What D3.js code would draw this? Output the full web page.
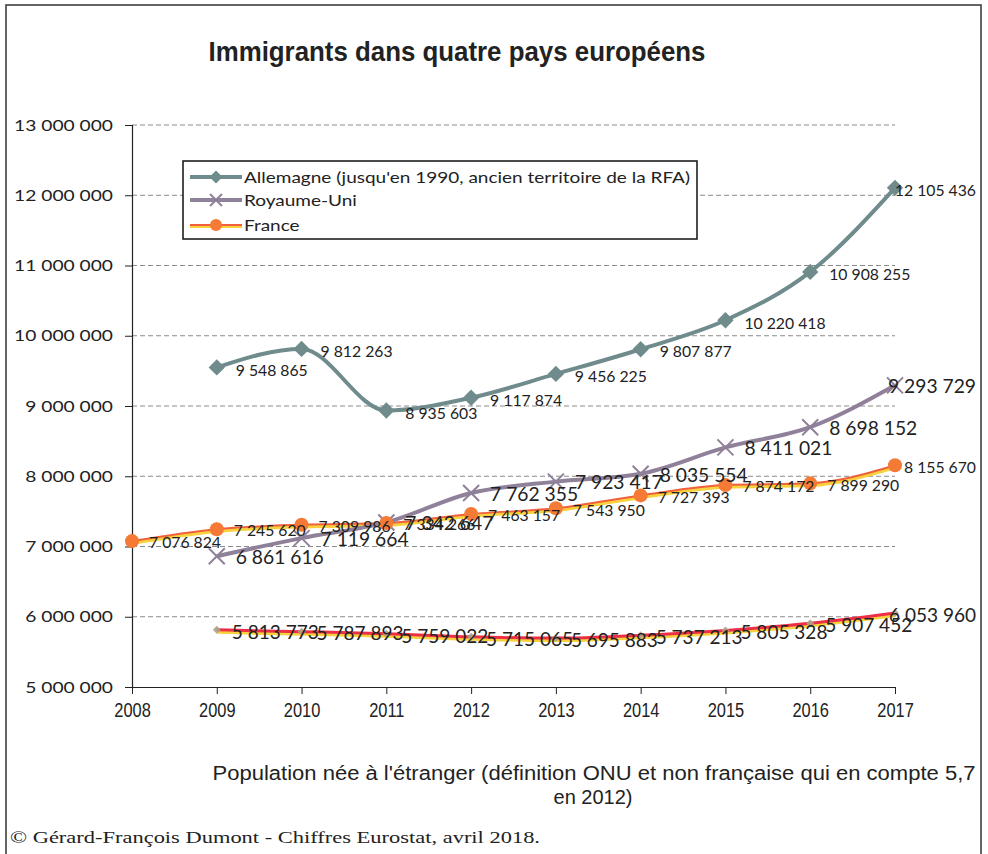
<!DOCTYPE html>
<html><head><meta charset="utf-8">
<script src="https://cdn.jsdelivr.net/npm/d3@7"></script>
<style>
body{margin:0;background:#fff;}
svg{display:block;}
</style></head>
<body>
<svg id="chart" width="988" height="854"></svg>
<script>
const years = [2008, 2009, 2010, 2011, 2012, 2013, 2014, 2015, 2016, 2017];
const allemagne = [null, 9548865, 9812263, 8935603, 9117874, 9456225, 9807877, 10220418, 10908255, 12105436];
const royaumeUni = [null, 6861616, 7119664, 7342647, 7762355, 7923417, 8035554, 8411021, 8698152, 9293729];
const france = [7076824, 7245620, 7309986, 7334266, 7463157, 7543950, 7727393, 7874172, 7899290, 8155670];
const quatrieme = [null, 5813773, 5787893, 5759022, 5715065, 5695883, 5737213, 5805328, 5907452, 6053960];
const yTicks = [5000000, 6000000, 7000000, 8000000, 9000000, 10000000, 11000000, 12000000, 13000000];
const legendLabels = ["Allemagne (jusqu'en 1990, ancien territoire de la RFA)", "Royaume-Uni", "France"];
const titleText = "Immigrants dans quatre pays européens";
const subtitleLines = ["Population née à l'étranger (définition ONU et non française qui en compte 5,7", "en 2012)"];
const footerText = "© Gérard-François Dumont - Chiffres  Eurostat, avril  2018.";

(function() {
const svg = d3.select("#chart");
const pLeft = 132, pRight = 895, pTop = 125, pBottom = 687;
const sans = "'Liberation Sans',Arial,sans-serif";
const cal = "Lato,Carlito,Calibri,'Open Sans',sans-serif";

function stretch(sel, k) {
  sel.each(function() {
    const w = this.getComputedTextLength();
    this.setAttribute("textLength", w * k);
    this.setAttribute("lengthAdjust", "spacingAndGlyphs");
  });
}
function fitTo(sel, w) {
  sel.attr("textLength", w).attr("lengthAdjust", "spacingAndGlyphs");
}

// frame
svg.append("rect").attr("x", 6).attr("y", 5).attr("width", 975).attr("height", 860)
  .attr("fill", "none").attr("stroke", "#333").attr("stroke-width", 1.5);

const x = d3.scalePoint().domain(years).range([pLeft, pRight]);
const y = d3.scaleLinear().domain([5000000, 13000000]).range([pBottom, pTop]);
const fmt = v => d3.format(",")(v).replace(/,/g, " ");

// gridlines
svg.append("g").selectAll("line").data(yTicks.filter(t => t > 5000000)).join("line")
  .attr("x1", pLeft).attr("x2", pRight).attr("y1", d => y(d)).attr("y2", d => y(d))
  .attr("stroke", "#8a8a8a").attr("stroke-width", 1).attr("stroke-dasharray", "5,3");

// axes
const yAxis = d3.axisLeft(y).tickValues(yTicks).tickSize(7).tickFormat(fmt).tickPadding(12);
const gy = svg.append("g").attr("transform", `translate(${pLeft},0)`).call(yAxis);
gy.select(".domain").attr("stroke", "#222").attr("stroke-width", 1.2);
gy.selectAll(".tick line").attr("stroke", "#222");
gy.selectAll("text").attr("font-family", cal).attr("font-size", 16).attr("fill", "#222").call(stretch, 1.2);

const xAxis = d3.axisBottom(x).tickSize(7).tickPadding(9).tickSizeOuter(0);
const gx = svg.append("g").attr("transform", `translate(0,${pBottom})`).call(xAxis);
gx.select(".domain").attr("stroke", "#222").attr("stroke-width", 1.2);
gx.selectAll(".tick line").attr("stroke", "#222");
gx.selectAll("text").attr("font-family", sans).attr("font-size", 20).attr("fill", "#222").call(stretch, 0.82);

const curve = d3.curveMonotoneX;
function pts(arr) { return years.map((yr, i) => ({yr, v: arr[i]})).filter(d => d.v != null); }
function lineGen(dy) {
  return d3.line().x(d => x(d.yr)).y(d => y(d.v) + (dy || 0)).curve(curve);
}

// fourth series (red with yellow shadow)
const p4 = pts(quatrieme);
svg.append("path").datum(p4).attr("d", lineGen(2)).attr("fill", "none").attr("stroke", "#f7d23e").attr("stroke-width", 4);
svg.append("path").datum(p4).attr("d", lineGen(0)).attr("fill", "none").attr("stroke", "#ec2f45").attr("stroke-width", 3);
svg.append("g").selectAll("path").data(p4).join("path")
  .attr("d", d3.symbol().type(d3.symbolDiamond2).size(40))
  .attr("transform", d => `translate(${x(d.yr)},${y(d.v)})`).attr("fill", "#b0a08a").attr("opacity", 0.9);

// France
const pF = pts(france);
svg.append("path").datum(pF).attr("d", lineGen(2)).attr("fill", "none").attr("stroke", "#f7d23e").attr("stroke-width", 3.5);
svg.append("path").datum(pF).attr("d", lineGen(0)).attr("fill", "none").attr("stroke", "#f0603a").attr("stroke-width", 2);

// Royaume-Uni
const pU = pts(royaumeUni);
svg.append("path").datum(pU).attr("d", lineGen(0)).attr("fill", "none").attr("stroke", "#8f8199").attr("stroke-width", 4);
svg.append("g").selectAll("path").data(pU).join("path")
  .attr("d", "M-8,-8L8,8M-8,8L8,-8")
  .attr("transform", d => `translate(${x(d.yr)},${y(d.v)})`).attr("stroke", "#8f8199").attr("stroke-width", 2);

// France markers
svg.append("g").selectAll("circle").data(pF).join("circle")
  .attr("cx", d => x(d.yr)).attr("cy", d => y(d.v)).attr("r", 7)
  .attr("fill", "#f57a36");

// Allemagne
const pA = pts(allemagne);
svg.append("path").datum(pA).attr("d", lineGen(0)).attr("fill", "none").attr("stroke", "#6f8b8c").attr("stroke-width", 4);
svg.append("g").selectAll("path").data(pA).join("path")
  .attr("d", d3.symbol().type(d3.symbolDiamond2).size(170))
  .attr("transform", d => `translate(${x(d.yr)},${y(d.v)})`).attr("fill", "#6f8b8c");

// data labels: k chosen so that a 9-character label spans refW pixels
function labels(data, size, refW, dx, dyPx) {
  const g = svg.append("g");
  const t = g.selectAll("text").data(data).join("text")
    .attr("x", d => x(d.yr) + dx).attr("y", d => y(d.v) + dyPx)
    .attr("dy", "0.35em").attr("font-family", cal).attr("font-size", size).attr("fill", "#222")
    .text(d => fmt(d.v));
  const probe = g.append("text").attr("font-family", cal).attr("font-size", size).text("9 548 865");
  const k = refW / probe.node().getComputedTextLength();
  probe.remove();
  t.call(stretch, k)
    .each(function() {
      const w = +this.getAttribute("textLength");
      const xx = +this.getAttribute("x");
      if (xx + w > 976) this.setAttribute("x", 976 - w);
    });
}
labels(pA, 15, 72, 19, 3);
labels(pU, 19.5, 88, 19, 1);
labels(pF, 15, 72, 17, 2);
labels(p4, 19.5, 87, 15, 2);

// legend
const lg = svg.append("g");
lg.append("rect").attr("x", 183).attr("y", 161).attr("width", 514).attr("height", 78)
  .attr("fill", "#fff").attr("stroke", "#111").attr("stroke-width", 1.5);
const ly = [177, 200, 225];
lg.append("line").attr("x1", 190).attr("x2", 242).attr("y1", ly[0]).attr("y2", ly[0]).attr("stroke", "#6f8b8c").attr("stroke-width", 4);
lg.append("path").attr("d", d3.symbol().type(d3.symbolDiamond2).size(110)).attr("transform", `translate(216,${ly[0]})`).attr("fill", "#6f8b8c");
lg.append("line").attr("x1", 190).attr("x2", 242).attr("y1", ly[1]).attr("y2", ly[1]).attr("stroke", "#8f8199").attr("stroke-width", 4);
lg.append("path").attr("d", "M-6,-6L6,6M-6,6L6,-6").attr("transform", `translate(216,${ly[1]})`).attr("stroke", "#8f8199").attr("stroke-width", 2);
lg.append("line").attr("x1", 190).attr("x2", 242).attr("y1", ly[2] + 1.5).attr("y2", ly[2] + 1.5).attr("stroke", "#f7d23e").attr("stroke-width", 3);
lg.append("line").attr("x1", 190).attr("x2", 242).attr("y1", ly[2]).attr("y2", ly[2]).attr("stroke", "#f0603a").attr("stroke-width", 2);
lg.append("circle").attr("cx", 216).attr("cy", ly[2]).attr("r", 6).attr("fill", "#f57a36");
const lt = lg.selectAll("text.lt").data(legendLabels).join("text").attr("class", "lt")
  .attr("x", 244).attr("y", (d, i) => ly[i]).attr("dy", "0.35em")
  .attr("font-family", cal).attr("font-size", 16).attr("fill", "#222").text(d => d);
const legK = 446 / lt.node().getComputedTextLength();
lt.call(stretch, legK);

// title
svg.append("text").attr("x", 457).attr("y", 61).attr("text-anchor", "middle")
  .attr("font-family", sans).attr("font-weight", "bold").attr("font-size", 27).attr("fill", "#222")
  .text(titleText).call(fitTo, 497);

// subtitle
svg.append("text").attr("x", 594).attr("y", 780).attr("text-anchor", "middle")
  .attr("font-family", sans).attr("font-size", 20).attr("fill", "#222").text(subtitleLines[0]).call(fitTo, 763);
svg.append("text").attr("x", 593).attr("y", 804).attr("text-anchor", "middle")
  .attr("font-family", sans).attr("font-size", 20).attr("fill", "#222").text(subtitleLines[1]).call(fitTo, 79);

// footer
svg.append("text").attr("x", 10).attr("y", 843)
  .attr("font-family", "'Liberation Serif','Times New Roman',serif").attr("font-size", 16).attr("fill", "#222")
  .text(footerText).call(fitTo, 530);
})();
</script>
</body></html>
